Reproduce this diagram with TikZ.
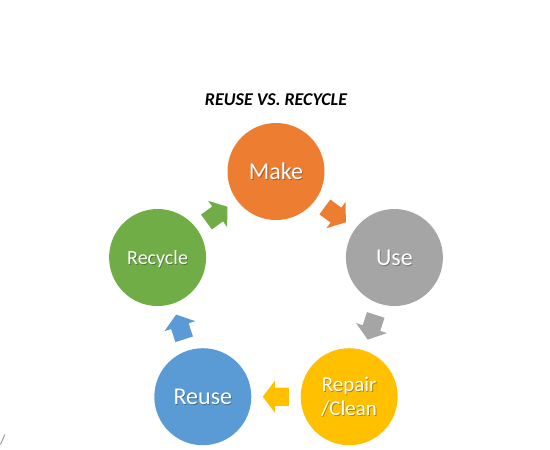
\documentclass[tikz,border=0pt]{standalone}
\usepackage{fontspec}
\setmainfont{Carlito}
\usetikzlibrary{shapes.arrows,calc}
\definecolor{cOrange}{HTML}{ED7D31}
\definecolor{cGray}{HTML}{A5A5A5}
\definecolor{cGold}{HTML}{FFC000}
\definecolor{cBlue}{HTML}{5B9BD5}
\definecolor{cGreen}{HTML}{70AD47}
\begin{document}
\begin{tikzpicture}[x=1pt,y=1pt,
  circ/.style={circle, minimum size=97pt, inner sep=0pt, draw=none},
  lbl/.style={text=white, align=center, inner sep=0pt, text depth=0pt},
  shd/.style={lbl, text=black, opacity=0.3},
  blk/.style={single arrow, draw=none, minimum height=26pt, inner xsep=0pt,
    inner ysep=9pt, single arrow head extend=7pt, single arrow tip angle=106,
    anchor=tail},
  big/.style={font=\fontsize{24}{24}\selectfont},
  mid/.style={font=\fontsize{20}{20}\selectfont},
  two/.style={font=\fontsize{21}{24}\selectfont}
]
\useasboundingbox (0,0) rectangle (550,450);

\node[font=\fontsize{18}{18}\selectfont\bfseries\itshape, inner sep=0pt] (title) at (276,350) {REUSE VS. RECYCLE};

\begin{scope}[shift={(276,154)}]
  \node[circ, fill=cOrange] (make)    at (90:124.5)  {};
  \node[circ, fill=cGray]   (use)     at (18:124.5)  {};
  \node[circ, fill=cGold]   (repair)  at (-54:124.5) {};
  \node[circ, fill=cBlue]   (reuse)   at (-126:124.5){};
  \node[circ, fill=cGreen]  (recycle) at (162:124.5) {};
\end{scope}

% text shadows
\node[shd, big] (makeS)    at ([shift={(0.8,-0.8)}]make)    {Make};
\node[shd, big] (useS)     at ([shift={(0.8,-0.8)}]use)     {Use};
\node[shd, two] (repairS)  at ([shift={(0.8,-0.8)}]repair)  {Repair\\/Clean};
\node[shd, big] (reuseS)   at ([shift={(0.8,-0.8)}]reuse)   {Reuse};
\node[shd, mid] (recycleS) at ([shift={(0.8,-0.8)}]recycle) {Recycle};
% texts
\node[lbl, big] (makeT)    at (make)    {Make};
\node[lbl, big] (useT)     at (use)     {Use};
\node[lbl, two] (repairT)  at (repair)  {Repair\\/Clean};
\node[lbl, big] (reuseT)   at (reuse)   {Reuse};
\node[lbl, mid] (recycleT) at (recycle) {Recycle};

% block arrows
\node[blk, fill=cOrange, rotate=-36]  (a1) at ($(make)!0.5!(use)!13pt!(make)$) {};
\node[blk, fill=cGray,   rotate=-108] (a2) at ($(use)!0.5!(repair)!13pt!(use)$) {};
\node[blk, fill=cGold,   rotate=180]  (a3) at ($(repair)!0.5!(reuse)!13pt!(repair)$) {};
\node[blk, fill=cBlue,   rotate=108]  (a4) at ($(reuse)!0.5!(recycle)!13pt!(reuse)$) {};
\node[blk, fill=cGreen,  rotate=36]   (a5) at ($(recycle)!0.5!(make)!13pt!(recycle)$) {};

\node[text=gray, font=\fontsize{14}{14}\selectfont, inner sep=0pt, anchor=west] (slash) at (0,10) {/};
\end{tikzpicture}
\end{document}
